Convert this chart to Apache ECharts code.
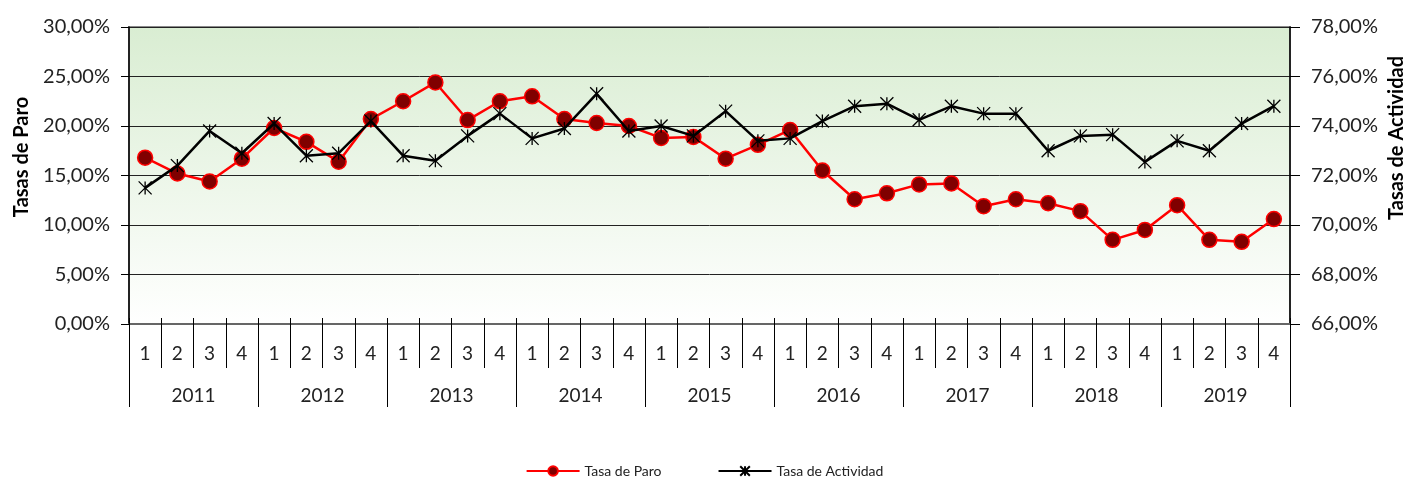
<!DOCTYPE html>
<html>
<head>
<meta charset="utf-8">
<script src="https://cdn.jsdelivr.net/npm/echarts@6/dist/echarts.min.js"></script>
<style>
  html, body { margin: 0; padding: 0; background: #fff; }
  #chart { width: 1409px; height: 479px; }
</style>
</head>
<body>
<div id="chart"></div>
<script>
// quarters and years
const quarters = []
const years = ['2011', '2012', '2013', '2014', '2015', '2016', '2017', '2018', '2019']
years.forEach(() => { quarters.push('1', '2', '3', '4') })

// Tasa de Paro (%), eje izquierdo
const tasaParo = [
  16.8, 15.2, 14.4, 16.7,
  19.8, 18.4, 16.4, 20.7,
  22.5, 24.4, 20.6, 22.5,
  23.0, 20.7, 20.3, 20.0,
  18.8, 18.9, 16.7, 18.1,
  19.6, 15.5, 12.6, 13.2,
  14.1, 14.2, 11.9, 12.6,
  12.2, 11.4, 8.5, 9.5,
  12.0, 8.5, 8.3, 10.6
]

// Tasa de Actividad (%), eje derecho
const tasaActividad = [
  71.5, 72.4, 73.8, 72.9,
  74.1, 72.8, 72.9, 74.2,
  72.8, 72.6, 73.6, 74.5,
  73.5, 73.9, 75.3, 73.8,
  74.0, 73.6, 74.6, 73.4,
  73.5, 74.2, 74.8, 74.9,
  74.25, 74.8, 74.5, 74.5,
  73.0, 73.6, 73.65, 72.55,
  73.4, 73.0, 74.1, 74.8
]

const fontFamily = 'Lato, "DejaVu Sans", sans-serif'
const fmt = v => v.toFixed(2).replace('.', ',') + '%'
const asterisk = 'path://M0,0L10,10M10,0L0,10M5,0L5,10'

const chart = echarts.init(document.getElementById('chart'))

chart.setOption({
  animation: false,
  textStyle: { fontFamily: fontFamily },

  legend: {
    top: 459,
    left: 'center',
    itemWidth: 53,
    itemHeight: 12,
    itemGap: 56,
    textStyle: { fontSize: 14, color: '#222', fontFamily: fontFamily },
    data: ['Tasa de Paro', 'Tasa de Actividad']
  },

  // titulos de los ejes (a mano, para poder colocarlos)
  graphic: [{
    type: 'text',
    x: 22,
    y: 157,
    rotation: Math.PI / 2,
    style: {
      text: 'Tasas de Paro',
      font: 'bold 20px ' + fontFamily,
      fill: '#000',
      align: 'center',
      verticalAlign: 'middle'
    }
  }, {
    type: 'text',
    x: 1397,
    y: 138,
    rotation: Math.PI / 2,
    style: {
      text: 'Tasas de Actividad',
      font: 'bold 20px ' + fontFamily,
      fill: '#000',
      align: 'center',
      verticalAlign: 'middle'
    }
  }],

  // area del grafico
  grid: {
    left: 129,
    right: 119,
    top: 27,
    bottom: 155,
    show: true,
    borderColor: '#8a8a8a',
    borderWidth: 2,
    backgroundColor: new echarts.graphic.LinearGradient(0, 0, 0, 1, [
      { offset: 0, color: '#d9edd2' },
      { offset: 1, color: '#ffffff' }
    ])
  },

  xAxis: [{
    // trimestres
    type: 'category',
    position: 'bottom',
    data: quarters,
    axisLine: { show: true, lineStyle: { color: '#666', width: 2 } },
    axisTick: { show: true, interval: 0, length: 44, lineStyle: { color: '#000', width: 1 } },
    axisLabel: { interval: 0, margin: 20, fontSize: 19, color: '#222' }
  }, {
    // años
    type: 'category',
    position: 'bottom',
    data: years,
    axisLine: { show: false },
    axisTick: { show: true, interval: 0, length: 83, lineStyle: { color: '#000', width: 1 } },
    axisLabel: { interval: 0, margin: 62, fontSize: 19, color: '#222' }
  }, {
    // marcas por encima del eje
    type: 'category',
    position: 'bottom',
    data: quarters,
    axisLine: { show: false },
    axisTick: { show: true, inside: true, interval: 0, length: 6, lineStyle: { color: '#000', width: 1 } },
    axisLabel: { show: false }
  }],

  yAxis: [{
    type: 'value',
    position: 'left',
    min: 0,
    max: 30,
    interval: 5,
    axisLine: { show: true, lineStyle: { color: '#000', width: 1.5 } },
    axisTick: { show: true, length: 8, lineStyle: { color: '#000', width: 1 } },
    axisLabel: { margin: 19, fontSize: 20, color: '#222', formatter: fmt },
    splitLine: { lineStyle: { color: '#222', width: 1 } }
  }, {
    type: 'value',
    position: 'right',
    min: 66,
    max: 78,
    interval: 2,
    axisLine: { show: true, lineStyle: { color: '#000', width: 1.5 } },
    axisTick: { show: true, length: 10, lineStyle: { color: '#000', width: 1 } },
    axisLabel: { margin: 21, fontSize: 20, color: '#222', formatter: fmt },
    splitLine: { show: false }
  }],

  series: [{
    name: 'Tasa de Paro',
    type: 'line',
    xAxisIndex: 0,
    yAxisIndex: 0,
    data: tasaParo,
    symbol: 'circle',
    symbolSize: 15,
    lineStyle: { color: '#ff0000', width: 2.5 },
    itemStyle: { color: '#800000', borderColor: '#ff0000', borderWidth: 1.5 },
    z: 3
  }, {
    name: 'Tasa de Actividad',
    type: 'line',
    xAxisIndex: 0,
    yAxisIndex: 1,
    data: tasaActividad,
    symbol: asterisk,
    symbolSize: 13,
    lineStyle: { color: '#000', width: 2.5 },
    itemStyle: { color: '#000', borderColor: '#000', borderWidth: 1.3 },
    z: 4
  }]
})
</script>
</body>
</html>
